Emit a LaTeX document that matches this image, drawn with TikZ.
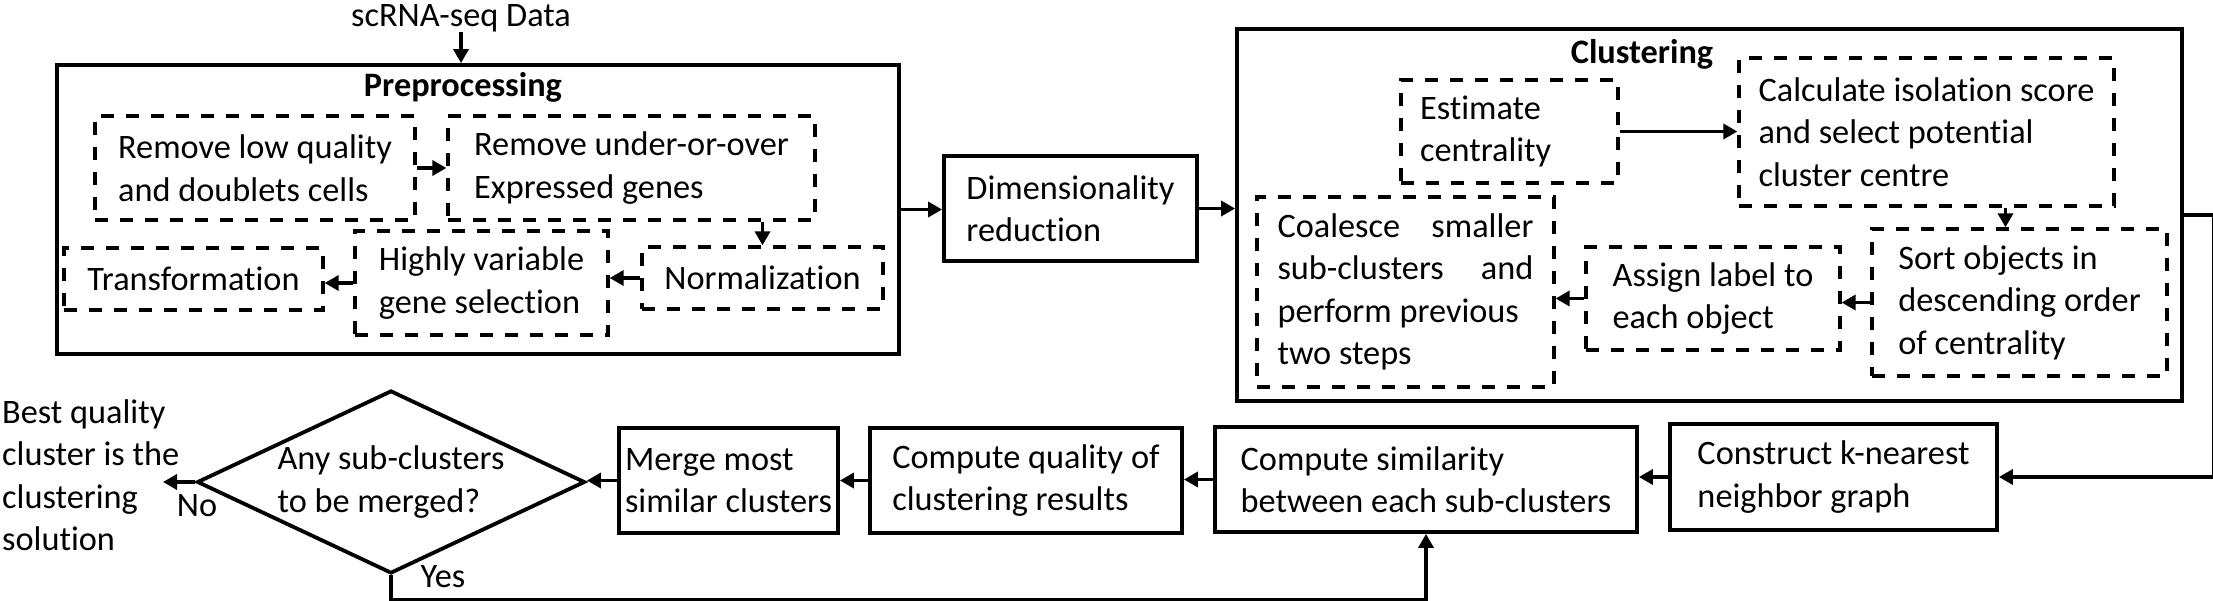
\documentclass[tikz,border=0pt]{standalone}
\usepackage{fontspec}
\setmainfont{Carlito}[Ligatures=NoCommon]
\usetikzlibrary{arrows.meta,shapes.geometric}

\begin{document}
\begin{tikzpicture}
  [x=1pt,y=-1pt,
   every node/.style={font=\fontsize{34.3}{42.5}\selectfont,inner sep=0pt,align=left},
   solidbox/.style={draw,line width=3.8pt},
   dashbox/.style={draw,line width=3.3pt,dash pattern=on 13pt off 12pt},
   arr/.style={line width=3.4pt,-{Triangle[length=14pt,width=15pt]}}]
  \useasboundingbox (0,0) rectangle (2213,600);

  % preprocessing
  \node (data) at (461,18) {scRNA-seq Data};
  \node[solidbox,minimum width=842,minimum height=289] (prep) at (478,209.5) {};
  \node (preptitle) at (463,87) {\bfseries Preprocessing};
  \node[dashbox,minimum width=320,minimum height=104] (lowq) at (255,168) {Remove low quality\\and doublets cells};
  \node[dashbox,minimum width=367,minimum height=104] (genes) at (631.5,168) {Remove under-or-over\\Expressed genes};
  \node[dashbox,minimum width=241,minimum height=62] (norm) at (762.5,278) {Normalization};
  \node[dashbox,minimum width=253,minimum height=104] (hvg) at (481.5,283) {Highly variable\\gene selection};
  \node[dashbox,minimum width=259,minimum height=62] (trans) at (193.5,279) {Transformation};

  \node[solidbox,minimum width=253,minimum height=105] (dim) at (1070.5,208.5) {Dimensionality\\reduction};

  % clustering
  \node[solidbox,minimum width=945,minimum height=372] (clust) at (1709.5,215) {};
  \node (clusttitle) at (1642,54) {\bfseries Clustering};
  \node[dashbox,minimum width=217,minimum height=103,text width=179] (est) at (1509.5,131.5) {Estimate\\centrality};
  \node[dashbox,minimum width=375,minimum height=148] (calc) at (1926.5,132) {Calculate isolation score\\and select potential\\cluster centre};
  \node[dashbox,minimum width=295,minimum height=147] (sort) at (2019.5,302.5) {Sort objects in\\descending order\\of centrality};
  \node[dashbox,minimum width=254,minimum height=103] (assign) at (1713,298.5) {Assign label to\\each object};
  \node[dashbox,minimum width=297,minimum height=190] (coal) at (1405.5,292)
    {\makebox[256pt][s]{Coalesce smaller}\\\makebox[256pt][s]{sub-clusters and}\\perform previous\\two steps};

  % merging
  \node[solidbox,minimum width=327,minimum height=106] (knn) at (1833.5,477) {Construct k-nearest\\neighbor graph};
  \node[solidbox,minimum width=422,minimum height=105] (sim) at (1426,479.5) {Compute similarity\\between each sub-clusters};
  \node[solidbox,minimum width=312,minimum height=105] (qual) at (1026,480.5) {Compute quality of\\clustering results};
  \node[solidbox,minimum width=219,minimum height=105] (merge) at (728.5,480.5) {Merge most\\similar clusters};
  \node[solidbox,diamond,minimum width=388,minimum height=183] (decide) at (391,482) {};
  \node (decidetext) at (decide) {Any sub-clusters\\to be merged?};
  \node[anchor=west] (best) at (2,475) {Best quality\\cluster is the\\clustering\\solution};
  \node (nolabel) at (197,506) {No};
  \node (yeslabel) at (443,577) {Yes};
  \coordinate (noend) at (163,482);

  \draw[arr] (data.south) -- (data.south |- prep.north);
  \foreach \from/\to in {lowq/genes,prep/dim,dim/clust,est/calc}
    \draw[arr] (\from.east) -- (\from.east -| \to.west);
  \foreach \from/\to in {norm/hvg,hvg/trans,sort/assign,assign/coal,knn/sim,sim/qual,qual/merge,merge/decide}
    \draw[arr] (\from.west) -- (\from.west -| \to.east);
  \draw[arr] (genes.south -| norm.north) -- (norm.north);
  \draw[arr] ([xshift=-14pt]sort.north |- calc.south) -- ([xshift=-14pt]sort.north);
  \draw[arr] (clust.east) -- ++(30,0) |- (knn.east);
  \draw[arr] (decide.south) -- ++(0,24) -| (sim.south);
  \draw[arr] (decide.west) -- (noend);
\end{tikzpicture}
\end{document}
